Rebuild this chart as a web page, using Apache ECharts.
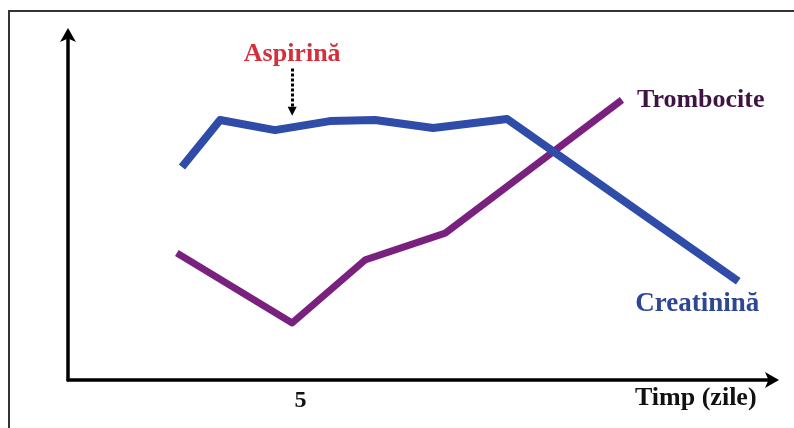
<!DOCTYPE html>
<html><head><meta charset="utf-8">
<script src="https://cdn.jsdelivr.net/npm/echarts@6/dist/echarts.min.js"></script>
<style>html,body{margin:0;padding:0;background:#fff}#c{width:794px;height:428px}</style>
</head><body><div id="c"></div>
<script>
// Time in days (x) and relative level (y, arbitrary units 0-100)
const creatininaDays = [2.45, 3.27, 4.45, 5.63, 6.60, 7.85, 9.44, 14.41];
const creatininaVals = [61.2, 74.7, 71.8, 74.4, 74.7, 72.4, 75.0, 28.4];
const trombociteDays = [2.34, 4.82, 6.39, 8.11, 11.91];
const trombociteVals = [36.5, 16.4, 34.5, 42.2, 80.5];
const xTickLabels = [5];
const aspirinaDay = 4.82;
const aspirinaRange = [89.5, 77.2];

const serif = '"Liberation Serif", "DejaVu Serif", serif';
const pair = (xs, ys) => xs.map((x, i) => [x, ys[i]]);

const chart = echarts.init(document.getElementById('c'), null, {renderer: 'canvas'});
chart.setOption({
  animation: false,
  backgroundColor: '#fff',
  grid: {left: 68, right: 19, top: 32, bottom: 48, containLabel: false},
  xAxis: {
    type: 'value', min: 0, max: 15.2, interval: 5,
    splitLine: {show: false}, axisTick: {show: false},
    axisLine: {show: true, onZero: false, symbol: ['none', 'arrow'], symbolSize: [12, 14], symbolOffset: [0, 4],
      lineStyle: {color: '#000', width: 3.5}},
    axisLabel: {show: true, margin: 9, color: '#111', fontFamily: serif, fontWeight: 'bold', fontSize: 24,
      formatter: v => xTickLabels.includes(v) ? String(v) : ''}
  },
  yAxis: {
    type: 'value', min: 0, max: 100,
    splitLine: {show: false}, axisTick: {show: false}, axisLabel: {show: false},
    axisLine: {show: true, onZero: false, symbol: ['none', 'arrow'], symbolSize: [12, 14], symbolOffset: [0, 4],
      lineStyle: {color: '#000', width: 3.5}}
  },
  graphic: [
    {type: 'polyline', silent: true, shape: {points: [[794, 11], [9, 11], [9, 428]]},
      style: {stroke: '#333', lineWidth: 2, fill: null}},
    {type: 'text', left: 635, top: 385, style: {text: 'Timp (zile)', font: 'bold 26px ' + serif, fill: '#111'}}
  ],
  series: [
    {
      name: 'Creatinină', type: 'line', data: pair(creatininaDays, creatininaVals),
      symbol: 'none', lineStyle: {color: '#2f4ca8', width: 8, join: 'round'}, z: 3,
      endLabel: {show: true, formatter: 'Creatinină', color: '#2e4696', fontFamily: serif, fontWeight: 'bold',
        fontSize: 27, distance: 0, offset: [-103, 23]},
      markLine: {
        silent: true, animation: false,
        symbol: ['none', 'triangle'], symbolSize: [9, 9], symbolRotate: 180,
        lineStyle: {color: '#000', type: [3, 2], width: 3},
        label: {show: true, position: 'start', formatter: 'Aspirină', color: '#d3303c', fontFamily: serif,
          fontWeight: 'bold', fontSize: 26, distance: 1},
        data: [[{coord: [aspirinaDay, aspirinaRange[0]]}, {coord: [aspirinaDay, aspirinaRange[1]]}]]
      }
    },
    {
      name: 'Trombocite', type: 'line', data: pair(trombociteDays, trombociteVals),
      symbol: 'none', lineStyle: {color: '#7a2180', width: 7, join: 'round'}, z: 2,
      endLabel: {show: true, formatter: 'Trombocite', color: '#3e1442', fontFamily: serif, fontWeight: 'bold',
        fontSize: 26, distance: 15}
    }
  ]
});
</script></body></html>
